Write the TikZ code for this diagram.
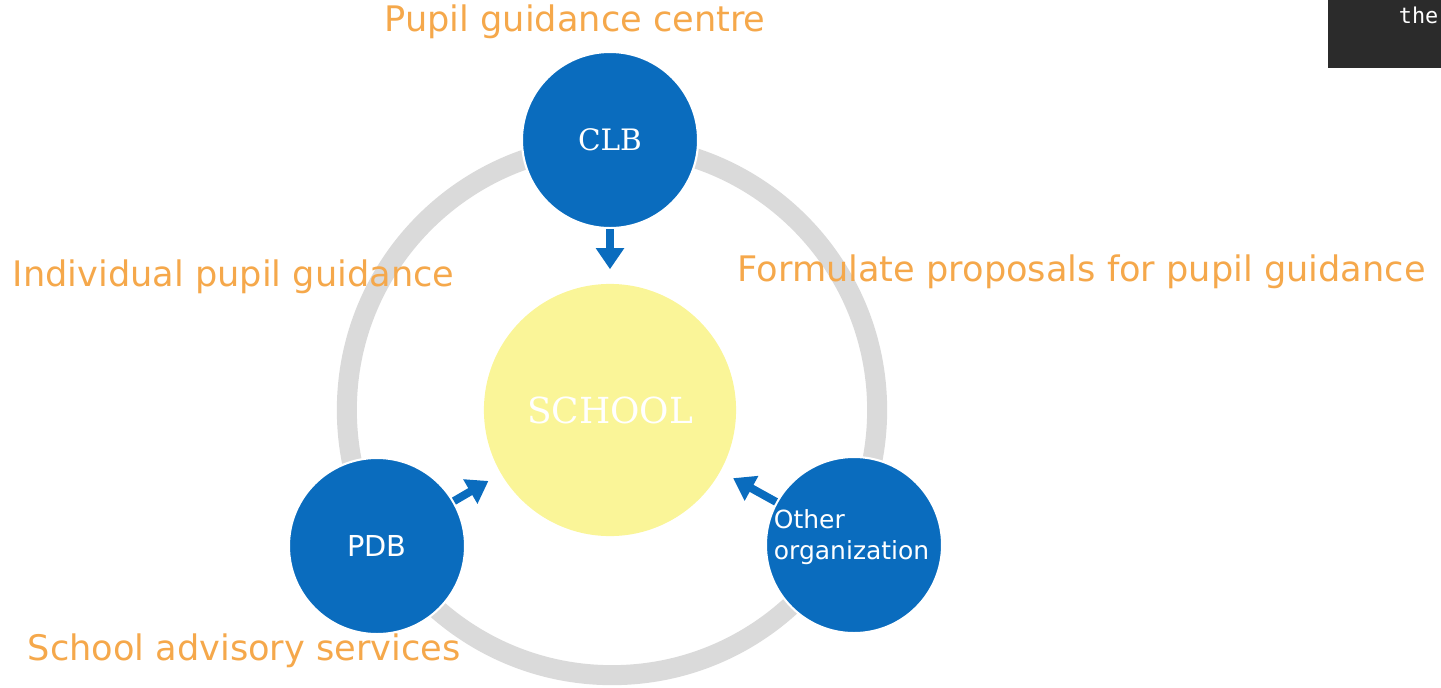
\documentclass[tikz,border=0pt]{standalone}
\usepackage{fontspec}
\setmainfont{DejaVu Sans}
\newfontfamily\slabfont{DejaVu Serif}
\newfontfamily\codefont{DejaVu Sans Mono}
\usepackage{xcolor}
\usetikzlibrary{positioning}
\usetikzlibrary{arrows.meta}
\definecolor{guideblue}{RGB}{10,108,190}
\definecolor{schoolyellow}{RGB}{250,245,152}
\definecolor{ringgray}{RGB}{218,218,218}
\definecolor{labelorange}{RGB}{245,168,75}
\definecolor{darkpanel}{RGB}{43,43,43}

\begin{document}
\begin{tikzpicture}[
  x=0.01cm, y=-0.01cm,
  partner/.style={circle, fill=guideblue, draw=white, line width=0.6pt, minimum size=1.76cm, inner sep=0pt, text=white},
  hub/.style={circle, fill=schoolyellow, minimum size=2.52cm, inner sep=0pt, text=white},
  flow/.style={-{Triangle[width=0.27cm, length=0.21cm]}, guideblue, line width=0.08cm, shorten >=0.14cm},
  caption/.style={text=labelorange, inner sep=0pt, font=\fontsize{10}{12}\selectfont}
]
\clip (0,0) rectangle (1441,687);

% ring behind the circles
\draw[ringgray, line width=0.2cm] (612,410) circle [radius=2.65cm];

% school in the middle
\node[hub, font=\slabfont\fontsize{10.2}{12}\selectfont] (school) at (610,410) {SCHOOL};

% the three partners
\node[partner, font=\slabfont\fontsize{8.4}{10}\selectfont] (clb) at (610,140) {CLB};
\node[partner, font=\fontsize{8.2}{10}\selectfont] (pdb) at (377,546) {PDB};
\node[partner, font=\fontsize{7.1}{8.8}\selectfont, align=left, text width=1.6cm, text depth=0.51cm, xshift=0.07cm] (other) at (847,545) {Other\\organization};

\draw[flow] (clb) -- (school);
\draw[flow] (pdb) -- (school);
\draw[flow] (other) -- (school);

% captions
\node[caption] (centre) at (575,22) {Pupil guidance centre};
\node[caption, anchor=west] (individual) at (12,277) {Individual pupil guidance};
\node[caption, anchor=west] (proposals) at (737,272) {Formulate proposals for pupil guidance};
\node[caption, anchor=west] (advisory) at (27,651) {School advisory services};

% corner of a dark panel
\fill[darkpanel] (1328,0) rectangle (1441,68);
\node[anchor=base east, inner sep=0pt, text=white, font=\codefont\fontsize{6.2}{8}\selectfont] (snippet) at (1439,23) {the};

\end{tikzpicture}
\end{document}
